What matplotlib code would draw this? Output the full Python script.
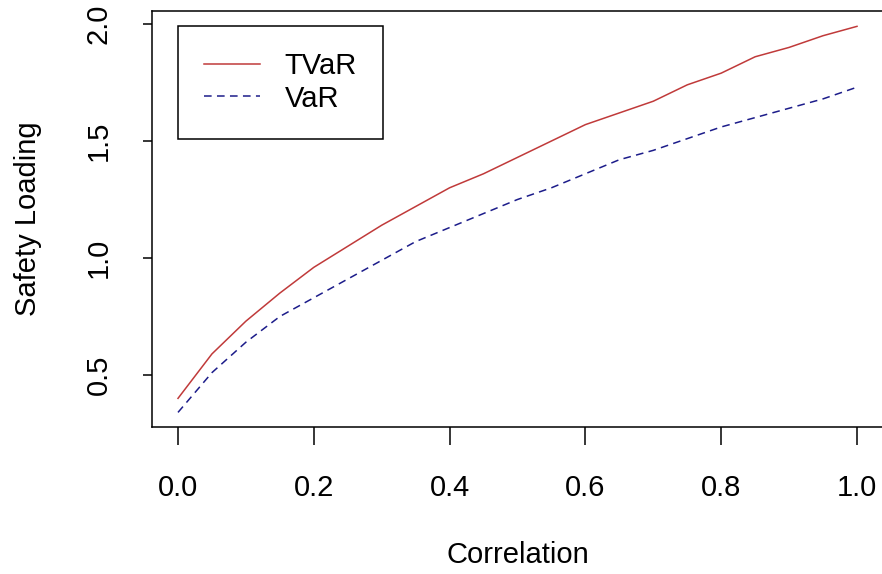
import matplotlib
matplotlib.use("Agg")
import matplotlib.pyplot as plt

# values
correlation = [0.00, 0.05, 0.10, 0.15, 0.20, 0.25, 0.30, 0.35, 0.40, 0.45, 0.50,
               0.55, 0.60, 0.65, 0.70, 0.75, 0.80, 0.85, 0.90, 0.95, 1.00]
tvar = [0.40, 0.59, 0.73, 0.85, 0.96, 1.05, 1.14, 1.22, 1.30, 1.36, 1.43,
        1.50, 1.57, 1.62, 1.67, 1.74, 1.79, 1.86, 1.90, 1.95, 1.99]
var = [0.34, 0.51, 0.64, 0.75, 0.83, 0.91, 0.99, 1.07, 1.13, 1.19, 1.25,
       1.30, 1.36, 1.42, 1.46, 1.51, 1.56, 1.60, 1.64, 1.68, 1.73]
x_ticks = [0.0, 0.2, 0.4, 0.6, 0.8, 1.0]
y_ticks = [0.5, 1.0, 1.5, 2.0]

plt.rcParams['font.family'] = ['Liberation Sans', 'DejaVu Sans']
FS = 21

W, H = 882, 574
fig = plt.figure(figsize=(W / 100, H / 100), dpi=100)
# axes box in pixels: left 152, right runs past the image edge, top 11, bottom 427
AW = 736
ax = fig.add_axes([152 / W, 1 - 427 / H, AW / W, 416 / H])

ax.plot(correlation, tvar, color='#c03a3a', lw=1.1, label='TVaR')
ax.plot(correlation, var, color='#1c1c8a', lw=1.1, dashes=(5, 3.5), label='VaR')

x0 = (178 - 152) / 679
ax.set_xlim(-x0, -x0 + AW / 679)
ax.set_ylim(0.2776, 2.0556)
ax.set_xticks(x_ticks)
ax.set_xticklabels(['%.1f' % v for v in x_ticks])
ax.set_yticks(y_ticks)
ax.set_yticklabels(['%.1f' % v for v in y_ticks], rotation=90, va='center')

for s in ax.spines.values():
    s.set_linewidth(1.1)
ax.spines['right'].set_visible(False)
ax.tick_params(axis='x', length=13, width=1.1, pad=21, labelsize=FS)
ax.tick_params(axis='y', length=6.5, width=1.1, pad=22, labelsize=FS)

ax.set_xlabel('Correlation', fontsize=FS)
ax.xaxis.set_label_coords(0.5 * 732 / AW, -0.3077)
ax.xaxis.label.set_va('center')
ax.set_ylabel('Safety Loading', fontsize=FS)
ax.yaxis.set_label_coords(-124 / AW, 0.5)
ax.yaxis.label.set_va('center')

leg = ax.legend(loc='upper left', bbox_to_anchor=(26 / AW, 1 - 15 / 416),
                borderaxespad=0, fancybox=False, edgecolor='black',
                framealpha=1, fontsize=FS, handlelength=1.9,
                handletextpad=0.85, borderpad=0.9, labelspacing=0.15)
leg.get_frame().set_linewidth(1.1)

fig.savefig('out.png', dpi=100)
